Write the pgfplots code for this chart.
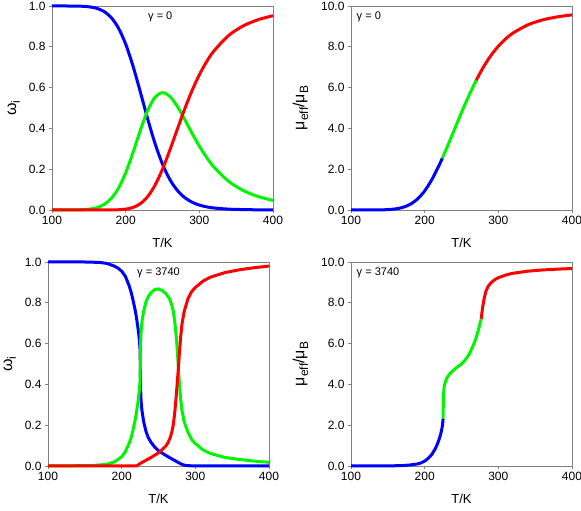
\documentclass[border=0pt]{standalone}
\usepackage{fontspec}
\setmainfont{Liberation Sans}
\usepackage{pgfplots}
\pgfplotsset{compat=1.18}
\definecolor{cB}{RGB}{0,0,255}
\definecolor{cG}{RGB}{0,245,0}
\definecolor{cR}{RGB}{255,0,0}
\newcommand{\sub}[1]{\raisebox{-0.45ex}{\fontsize{12}{12}\selectfont #1}}
\pgfplotsset{
  myax/.style={
    scale only axis, width=221pt, height=204pt,
    xmin=100, xmax=400, xtick={100,200,300,400},
    axis line style={gray, line width=0.8pt},
    tick style={gray, line width=0.8pt},
    tick align=outside, major tick length=3pt,
    tick pos=left,
    clip=false,
    /pgf/number format/assume math mode=true,
    ticklabel style={font=\fontsize{12}{14}\selectfont},
    xlabel style={font=\fontsize{13}{15}\selectfont, yshift=-6pt},
    ylabel style={font=\fontsize{16}{18}\selectfont},
    xlabel={T/K},
    every axis plot/.append style={line width=3pt, line join=round},
  },
  omax/.style={myax, ymin=0, ymax=1, ytick={0,0.2,0.4,0.6,0.8,1.0},
    yticklabel style={/pgf/number format/.cd, fixed, fixed zerofill, precision=1},
    ylabel style={yshift=2pt},
    ylabel={ω\sub{i}}},
  muax/.style={myax, ymin=0, ymax=10, ytick={0,2,4,6,8,10},
    yticklabel style={/pgf/number format/.cd, fixed, fixed zerofill, precision=1},
    ylabel style={yshift=6pt},
    ylabel={μ\sub{eff}/μ\sub{B}}},
}
\begin{document}
\begin{tikzpicture}
\useasboundingbox (0pt,0pt) rectangle (581pt,511pt);
% ---------- top left
\begin{axis}[omax, at={(52pt,301pt)}, anchor=south west]
\addplot[cB, smooth] coordinates {(100,1.0)(120,1.0)(140,0.9988)(150,0.9961)(160,0.9894)(170,0.9745)(180,0.9449)(190,0.8933)(200,0.8134)(210,0.7052)(220,0.5773)(230,0.4452)(240,0.3243)(250,0.2247)(260,0.1495)(270,0.0966)(280,0.0612)(290,0.0384)(300,0.0241)(310,0.0152)(320,0.0097)(340,0.0041)(360,0.0019)(380,0.0009)(400,0.0005)};
\addplot[cG, smooth] coordinates {(100,0)(120,0.0001)(140,0.0012)(150,0.0039)(160,0.0106)(170,0.0255)(180,0.0548)(190,0.1055)(200,0.1824)(210,0.2823)(220,0.3915)(230,0.4886)(240,0.5532)(250,0.5752)(260,0.5567)(270,0.5087)(280,0.4448)(290,0.3771)(300,0.3132)(310,0.2570)(320,0.2098)(340,0.1399)(360,0.0948)(380,0.0659)(400,0.0471)};
\addplot[cR, smooth] coordinates {(100,0)(150,0)(160,0)(170,0.0001)(180,0.0003)(190,0.0012)(200,0.0042)(210,0.0125)(220,0.0311)(230,0.0662)(240,0.1225)(250,0.2001)(260,0.2937)(270,0.3948)(280,0.4940)(290,0.5845)(300,0.6627)(310,0.7277)(320,0.7804)(340,0.8560)(360,0.9033)(380,0.9331)(400,0.9524)};
\node[font=\fontsize{11}{13}\selectfont] at (axis cs:247,0.945) {γ = 0};
\end{axis}
% ---------- top right
\begin{axis}[muax, at={(351pt,301pt)}, anchor=south west]
\addplot[cB, smooth] coordinates {(100,0)(120,0.0005)(140,0.006)(150,0.019)(160,0.052)(170,0.125)(180,0.271)(190,0.529)(200,0.935)(210,1.506)(220,2.223)(224,2.54)};
\addplot[cG, smooth] coordinates {(224,2.54)(230,3.043)(240,3.911)(250,4.779)(260,5.606)(270,6.362)};
\addplot[cR, smooth] coordinates {(270,6.362)(280,7.021)(290,7.576)(300,8.029)(310,8.390)(320,8.676)(340,9.075)(360,9.317)(380,9.467)(400,9.565)};
\node[font=\fontsize{11}{13}\selectfont, anchor=west] at (axis cs:103,9.45) {γ = 0};
\end{axis}
% ---------- bottom left
\begin{axis}[omax, at={(48pt,45pt)}, anchor=south west]
\addplot[cB] coordinates {(100,1.0)(150,1.0)(170,0.998)(180,0.993)(190,0.98)(195,0.97)(200,0.955)(205,0.93)(210,0.885)(213,0.85)(215,0.82)(218,0.77)(220,0.73)(222,0.68)(224,0.62)(225,0.57)(225.5,0.45)(226,0.34)(227,0.29)(228,0.26)(230,0.215)(233,0.17)(236,0.14)(240,0.115)(245,0.092)(250,0.075)(255,0.063)(260,0.052)(265,0.041)(270,0.031)(275,0.021)(280,0.011)(285,0.004)(290,0.0015)(300,0.0005)(400,0)};
\addplot[cG] coordinates {(100,0)(160,0.002)(180,0.008)(190,0.02)(200,0.045)(205,0.07)(210,0.11)(213,0.14)(215,0.17)(218,0.22)(220,0.26)(222,0.31)(224,0.37)(225,0.42)(225.5,0.54)(226,0.64)(227,0.69)(228,0.72)(230,0.76)(233,0.805)(236,0.83)(240,0.85)(245,0.865)(250,0.868)(255,0.86)(260,0.845)(265,0.82)(268,0.79)(270,0.76)(272,0.71)(274,0.64)(275.5,0.57)(277,0.48)(278.5,0.40)(280,0.33)(282,0.27)(285,0.215)(290,0.165)(295,0.13)(300,0.11)(310,0.08)(320,0.062)(340,0.042)(360,0.032)(380,0.024)(400,0.018)};
\addplot[cR] coordinates {(100,0)(220,0)(222,0.004)(225,0.012)(230,0.022)(235,0.032)(240,0.042)(245,0.053)(250,0.065)(255,0.08)(260,0.098)(263,0.115)(266,0.14)(268,0.165)(270,0.2)(272,0.26)(274,0.34)(275.5,0.41)(277,0.48)(278.5,0.56)(280,0.63)(282,0.70)(285,0.76)(290,0.82)(295,0.855)(300,0.875)(310,0.905)(320,0.925)(340,0.948)(360,0.962)(380,0.972)(400,0.98)};
\node[font=\fontsize{11}{13}\selectfont] at (axis cs:250,0.945) {γ = 3740};
\end{axis}
% ---------- bottom right
\begin{axis}[muax, at={(351pt,45pt)}, anchor=south west]
\addplot[cB] coordinates {(100,0)(150,0.005)(170,0.02)(180,0.05)(190,0.1)(195,0.15)(200,0.24)(205,0.38)(210,0.58)(214,0.82)(217,1.05)(220,1.35)(222,1.6)(223.5,1.85)(224.5,2.1)(225,2.33)};
\addplot[cG] coordinates {(225,2.33)(225.3,3.0)(225.6,3.5)(226.2,3.8)(227,3.98)(228.5,4.17)(230,4.3)(233,4.47)(236,4.6)(240,4.72)(245,4.87)(250,5.0)(255,5.2)(260,5.45)(264,5.75)(267,6.0)(270,6.3)(272.5,6.62)(274.5,6.9)(276.8,7.22)};
\addplot[cR] coordinates {(276.8,7.22)(278,7.6)(279.5,7.95)(281,8.25)(283,8.55)(286,8.8)(290,8.98)(295,9.13)(300,9.23)(310,9.36)(320,9.45)(340,9.55)(360,9.61)(380,9.65)(400,9.68)};
\node[font=\fontsize{11}{13}\selectfont, anchor=west] at (axis cs:103,9.45) {γ = 3740};
\end{axis}
\end{tikzpicture}
\end{document}
